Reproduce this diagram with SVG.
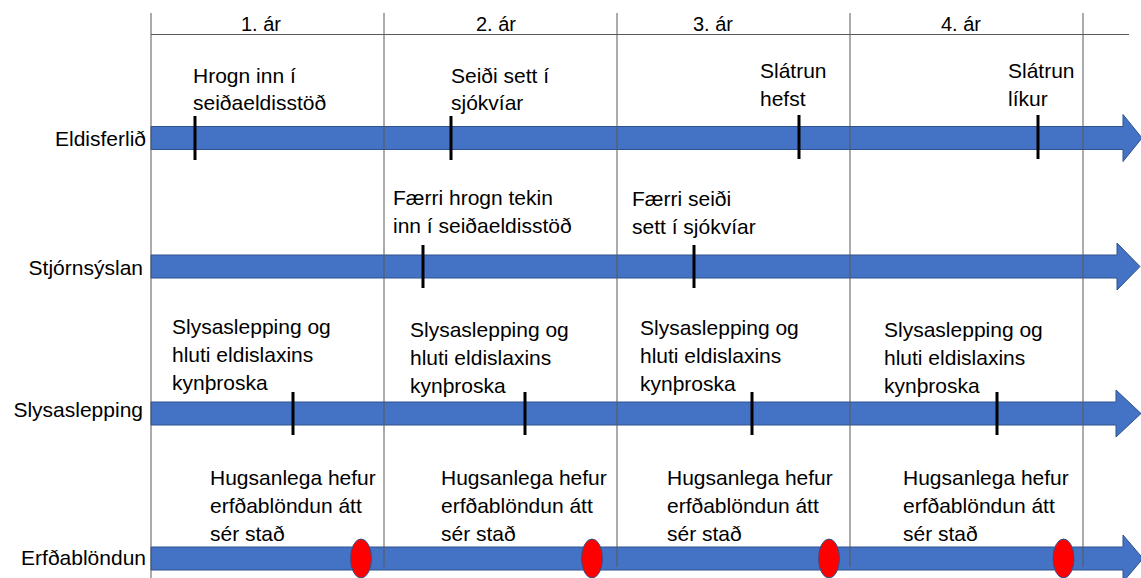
<svg xmlns="http://www.w3.org/2000/svg" width="1141" height="578" viewBox="0 0 1141 578">
<style>
.arrow{fill:#4472C4;stroke:#2F528F;stroke-width:1}
.grid{stroke:#595959;stroke-width:1;fill:none}
.tick{stroke:#000;stroke-width:3}
.dot{fill:#FF0000;stroke:#2F528F;stroke-width:1}
text{font-family:"Liberation Sans",Arial,sans-serif;font-size:21px;fill:#000}
.yr{font-size:20px;text-anchor:middle}
.row{text-anchor:end}
</style>
<rect width="1141" height="578" fill="#fff"/>
<g id="arrows">
<path id="arrow-eldisferlid" class="arrow" d="M151,126.5 H1123 V114.5 L1142,138 L1123,161.5 V149.5 H151 Z"/>
<path id="arrow-stjornsyslan" class="arrow" d="M151,255 H1117 V243 L1140,266.5 L1117,290 V278 H151 Z"/>
<path id="arrow-slysaslepping" class="arrow" d="M151,402 H1116 V390 L1141,413.5 L1116,437 V425 H151 Z"/>
<path id="arrow-erfdablondun" class="arrow" d="M151,547 H1123 V535 L1143,558.5 L1123,582 V570 H151 Z"/>
</g>
<g id="grid">
<line class="grid" x1="151" y1="13" x2="151" y2="578"/>
<line class="grid" x1="384" y1="13" x2="384" y2="567"/>
<line class="grid" x1="617" y1="13" x2="617" y2="567"/>
<line class="grid" x1="850" y1="13" x2="850" y2="567"/>
<line class="grid" x1="1083" y1="13" x2="1083" y2="567"/>
<line class="grid" x1="151" y1="34.5" x2="1129" y2="34.5"/>
</g>
<g id="years">
<text class="yr" x="261" y="31">1. ár</text>
<text class="yr" x="496" y="31">2. ár</text>
<text class="yr" x="713" y="31">3. ár</text>
<text class="yr" x="961" y="31">4. ár</text>
</g>
<g id="row-labels">
<text class="row" x="146" y="146">Eldisferlið</text>
<text class="row" x="143" y="275">Stjórnsýslan</text>
<text class="row" x="143" y="417">Slysaslepping</text>
<text class="row" x="146" y="565">Erfðablöndun</text>
</g>
<g id="ev-hrogn"><line class="tick" x1="195" y1="116" x2="195" y2="160"/><text x="193" y="83">Hrogn inn í</text><text x="193" y="110">seiðaeldisstöð</text></g>
<g id="ev-seidi"><line class="tick" x1="451" y1="116" x2="451" y2="160"/><text x="451" y="83">Seiði sett í</text><text x="451" y="110">sjókvíar</text></g>
<g id="ev-slatrun-hefst"><line class="tick" x1="799" y1="115" x2="799" y2="159"/><text x="760" y="78">Slátrun</text><text x="760" y="106">hefst</text></g>
<g id="ev-slatrun-likur"><line class="tick" x1="1038" y1="115" x2="1038" y2="159"/><text x="1008" y="78">Slátrun</text><text x="1008" y="106">líkur</text></g>
<g id="ev-faerri-hrogn"><line class="tick" x1="423" y1="245" x2="423" y2="288"/><text x="393" y="205">Færri hrogn tekin</text><text x="393" y="233">inn í seiðaeldisstöð</text></g>
<g id="ev-faerri-seidi"><line class="tick" x1="694" y1="245" x2="694" y2="288"/><text x="632" y="206">Færri seiði</text><text x="632" y="234">sett í sjókvíar</text></g>
<g id="ev-slys-1"><line class="tick" x1="293" y1="392" x2="293" y2="435"/><text x="172" y="334">Slysaslepping og</text><text x="172" y="362">hluti eldislaxins</text><text x="172" y="390">kynþroska</text></g>
<g id="ev-slys-2"><line class="tick" x1="525" y1="392" x2="525" y2="435"/><text x="410" y="337">Slysaslepping og</text><text x="410" y="365">hluti eldislaxins</text><text x="410" y="393">kynþroska</text></g>
<g id="ev-slys-3"><line class="tick" x1="752" y1="392" x2="752" y2="435"/><text x="640" y="335">Slysaslepping og</text><text x="640" y="363">hluti eldislaxins</text><text x="640" y="391">kynþroska</text></g>
<g id="ev-slys-4"><line class="tick" x1="997" y1="392" x2="997" y2="435"/><text x="884" y="337">Slysaslepping og</text><text x="884" y="365">hluti eldislaxins</text><text x="884" y="393">kynþroska</text></g>
<g id="ev-erfd-1"><ellipse class="dot" cx="361" cy="558.5" rx="10.5" ry="19.5"/><text x="210" y="485">Hugsanlega hefur</text><text x="210" y="513">erfðablöndun átt</text><text x="210" y="541">sér stað</text></g>
<g id="ev-erfd-2"><ellipse class="dot" cx="592" cy="558.5" rx="10.5" ry="19.5"/><text x="441" y="485">Hugsanlega hefur</text><text x="441" y="513">erfðablöndun átt</text><text x="441" y="541">sér stað</text></g>
<g id="ev-erfd-3"><ellipse class="dot" cx="829" cy="558.5" rx="10.5" ry="19.5"/><text x="667" y="485">Hugsanlega hefur</text><text x="667" y="513">erfðablöndun átt</text><text x="667" y="541">sér stað</text></g>
<g id="ev-erfd-4"><ellipse class="dot" cx="1063.5" cy="558.5" rx="10.5" ry="19.5"/><text x="903" y="485">Hugsanlega hefur</text><text x="903" y="513">erfðablöndun átt</text><text x="903" y="541">sér stað</text></g>
</svg>
